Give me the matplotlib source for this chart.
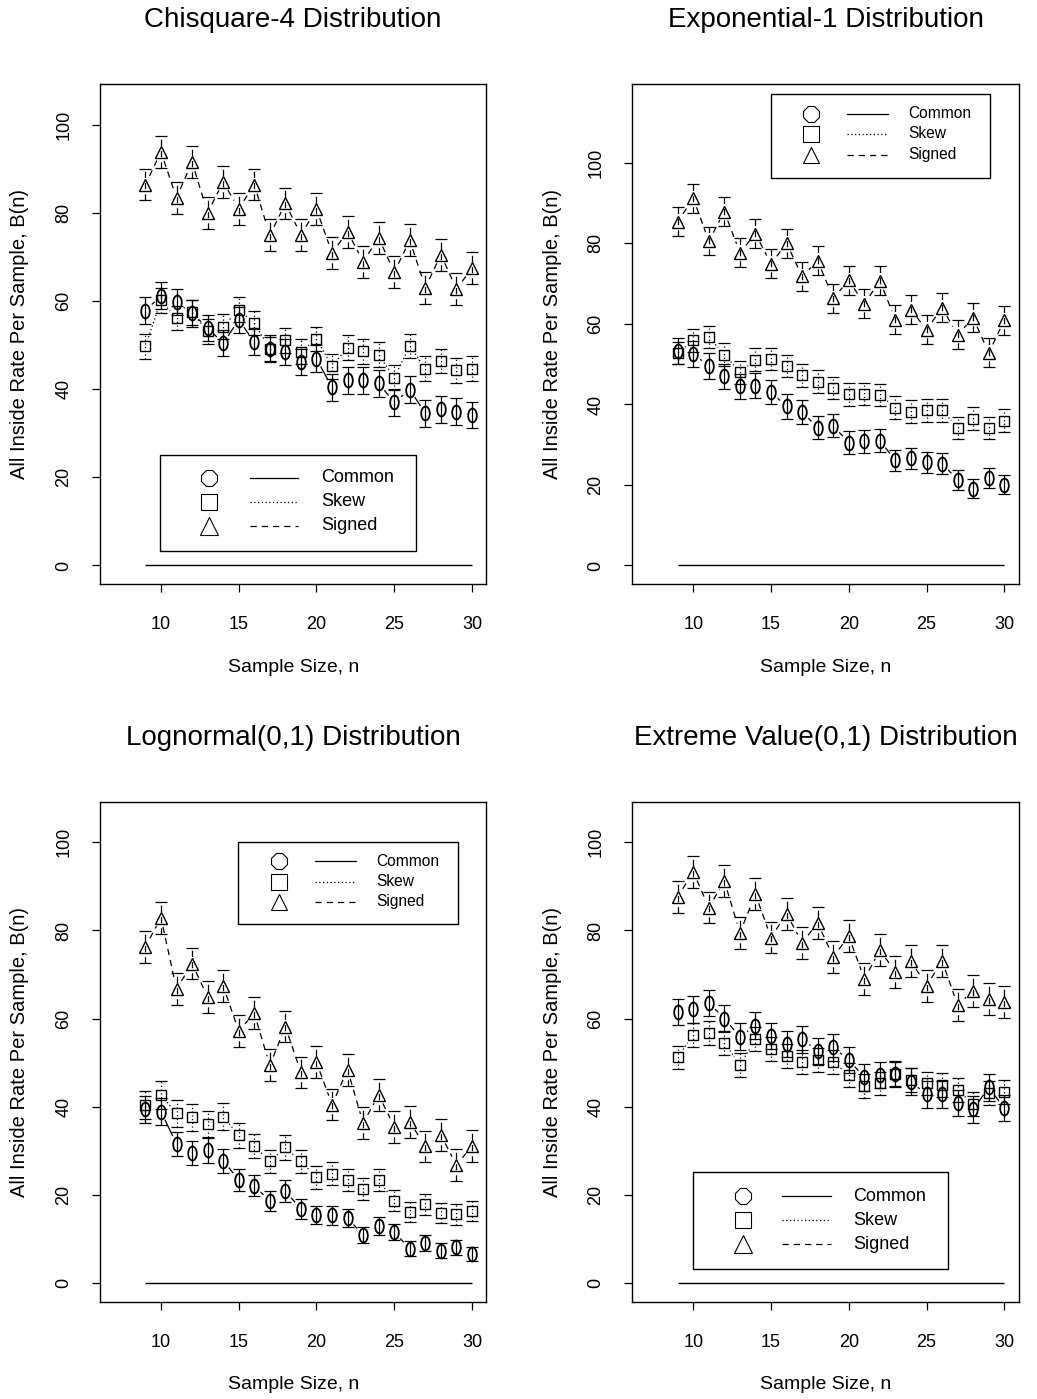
import numpy as np
import matplotlib
matplotlib.use("Agg")
import matplotlib.pyplot as plt
from matplotlib.path import Path

plt.rcParams["font.family"] = ["Liberation Sans", "DejaVu Sans"]

# sample sizes on the x axis
n = list(range(9, 31))

titles = ["Chisquare-4 Distribution", "Exponential-1 Distribution",
          "Lognormal(0,1) Distribution", "Extreme Value(0,1) Distribution"]
series_names = ["Common", "Skew", "Signed"]
x_ticks = [10, 15, 20, 25, 30]
y_ticks = [0, 20, 40, 60, 80, 100]
y_tops = [105, 115, 105, 105]

# Chisquare-4
chisq_common = [57.8, 61.2, 59.7, 57.2, 53.9, 50.4, 55.7, 50.7, 49.2, 48.4, 46.1,
                46.9, 40.4, 42.0, 42.0, 41.3, 37.0, 39.9, 34.5, 35.4, 34.9, 34.1]
chisq_skew = [49.7, 60.1, 56.1, 57.4, 53.1, 54.2, 58.0, 55.0, 49.1, 51.1, 48.5,
              51.4, 45.2, 49.4, 48.6, 47.8, 42.6, 49.8, 44.6, 46.4, 44.3, 44.6]
chisq_signed = [86.4, 93.8, 83.4, 91.5, 80.0, 87.0, 80.9, 86.4, 74.9, 82.1, 75.0,
                80.8, 70.9, 75.7, 68.9, 74.3, 66.5, 73.8, 63.0, 70.5, 62.7, 67.4]
chisq_err = [3.0, 2.8, 3.6]

# Exponential-1
expo_common = [53.2, 52.6, 49.5, 47.0, 44.5, 44.7, 43.0, 39.5, 38.2, 34.2, 34.7,
               30.5, 30.8, 31.0, 26.1, 26.6, 25.6, 25.3, 21.3, 19.1, 21.8, 20.1]
expo_skew = [52.8, 55.9, 56.7, 52.4, 48.0, 51.1, 51.3, 49.6, 47.2, 45.7, 44.1,
             42.5, 42.6, 42.4, 39.2, 38.2, 38.5, 38.5, 34.2, 36.5, 34.2, 36.0]
expo_signed = [85.4, 91.2, 80.6, 87.9, 77.7, 82.4, 74.9, 80.1, 71.8, 75.7, 66.4,
               70.8, 65.0, 70.7, 61.0, 63.5, 58.6, 64.0, 57.3, 61.5, 52.8, 60.9]
expo_err = [[3.2, 3.2, 3.2, 3.1, 3.1, 3.1, 3.0, 3.0, 3.0, 2.9, 2.9,
             2.8, 2.8, 2.8, 2.7, 2.7, 2.6, 2.6, 2.5, 2.4, 2.5, 2.4],
            2.8, 3.6]

# Lognormal(0,1)
logn_common = [39.4, 38.9, 31.6, 29.5, 30.1, 27.8, 23.4, 22.1, 18.6, 20.9, 16.8,
               15.5, 15.4, 14.8, 10.9, 13.0, 11.6, 7.8, 9.1, 7.3, 8.2, 6.6]
logn_skew = [40.4, 42.7, 38.5, 37.6, 36.1, 37.8, 33.5, 31.1, 27.6, 30.8, 27.6,
             24.0, 24.8, 23.4, 21.3, 23.3, 18.7, 16.1, 17.9, 15.9, 15.6, 16.4]
logn_signed = [76.3, 82.9, 66.7, 72.5, 64.9, 67.4, 57.2, 61.2, 49.4, 58.2, 47.8,
               50.1, 40.5, 48.4, 36.3, 42.7, 35.5, 36.6, 31.0, 33.6, 26.8, 31.1]
logn_err = [[3.0, 3.0, 2.8, 2.7, 2.8, 2.7, 2.5, 2.4, 2.3, 2.4, 2.2,
             2.1, 2.1, 2.1, 1.9, 2.0, 1.9, 1.7, 1.8, 1.7, 1.7, 1.6],
            [3.1, 3.1, 3.0, 3.0, 2.9, 3.0, 2.9, 2.8, 2.7, 2.8, 2.7,
             2.6, 2.6, 2.5, 2.5, 2.5, 2.4, 2.3, 2.4, 2.3, 2.3, 2.3],
            3.6]

# Extreme Value(0,1)
evd_common = [61.5, 62.1, 63.6, 60.0, 55.9, 58.4, 56.0, 54.2, 55.3, 52.7, 53.5,
              50.6, 46.7, 47.2, 47.4, 45.7, 42.8, 42.8, 40.9, 39.4, 44.4, 39.7]
evd_skew = [51.2, 56.3, 56.7, 54.5, 49.5, 55.3, 53.2, 51.5, 50.2, 50.6, 50.2,
            47.2, 44.7, 45.3, 47.4, 46.1, 45.3, 44.9, 43.8, 40.6, 43.1, 43.4]
evd_signed = [87.6, 93.3, 85.2, 91.2, 79.5, 88.2, 78.4, 83.8, 77.2, 81.7, 74.0,
              78.7, 69.0, 75.5, 70.6, 73.1, 67.4, 73.1, 63.1, 66.3, 64.4, 63.8]
evd_err = [3.0, 2.7, 3.6]

panel_series = [
    (chisq_common, chisq_skew, chisq_signed, chisq_err),
    (expo_common, expo_skew, expo_signed, expo_err),
    (logn_common, logn_skew, logn_signed, logn_err),
    (evd_common, evd_skew, evd_signed, evd_err),
]

# legend layout per panel, in axes fractions: box, rows, symbol x, line x, text x, text size
legend_layout = [
    dict(box=(0.155, 0.066, 0.819, 0.258), rows=(0.212, 0.164, 0.116), sx=0.282,
         lx=(0.389, 0.513), tx=0.573, fs=13, ms=(13, 12, 13)),
    dict(box=(0.358, 0.813, 0.926, 0.980), rows=(0.941, 0.901, 0.859), sx=0.463,
         lx=(0.557, 0.662), tx=0.714, fs=11.2, ms=(12, 11, 12)),
    dict(box=(0.358, 0.755, 0.928, 0.919), rows=(0.881, 0.840, 0.800), sx=0.464,
         lx=(0.557, 0.663), tx=0.715, fs=11.2, ms=(12, 11, 12)),
    dict(box=(0.157, 0.065, 0.817, 0.259), rows=(0.211, 0.163, 0.115), sx=0.287,
         lx=(0.388, 0.515), tx=0.572, fs=13, ms=(13, 12, 13)),
]

dotted = (0, (1, 2))
dashed = (0, (5, 4))
styles = ["-", dotted, dashed]

circ = Path.unit_circle()
oval = Path(circ.vertices * [0.62, 1.0], circ.codes)
point_markers = [oval, "s", "^"]
point_sizes = [10, 7.2, 8.6]
legend_markers = ["8", "s", "^"]


def gapped_line(ax, xs, ys, gap, ls):
    # like R's type="b": segments between points, cut short near each point
    pts = ax.transData.transform(np.column_stack([xs, ys]))
    inv = ax.transData.inverted()
    for a, b in zip(pts[:-1], pts[1:]):
        d = b - a
        length = np.hypot(d[0], d[1])
        if length <= 2 * gap:
            continue
        u = d / length
        seg = inv.transform(np.array([a + u * gap, b - u * gap]))
        ax.plot(seg[:, 0], seg[:, 1], color="black", lw=0.9, ls=ls)


fig = plt.figure(figsize=(10.37, 13.99), dpi=100)
W, H = 1037, 1399
axes_px = [(100, 84), (632.3, 84), (100, 801.7), (632.3, 801.7)]
ax_w, ax_h = 386.3, 500

for k in range(4):
    x0, y0 = axes_px[k]
    ax = fig.add_axes([x0 / W, 1 - (y0 + ax_h) / H, ax_w / W, ax_h / H])
    ax.set_xlim(7 - 0.04 * 23, 30 + 0.04 * 23)
    ax.set_ylim(-0.04 * y_tops[k], y_tops[k] * 1.04)
    common, skew, signed, errs = panel_series[k]

    ax.hlines(0, n[0], n[-1], color="black", lw=1.0)

    for j, vals in enumerate([common, skew, signed]):
        gapped_line(ax, n, vals, 9.5, styles[j])
        eb = ax.errorbar(n, vals, yerr=errs[j], fmt="none", ecolor="black",
                         elinewidth=0.9, capsize=4.3, capthick=0.9)
        eb[2][0].set_linestyle(styles[j])
        ax.plot(n, vals, ls="none", marker=point_markers[j], ms=point_sizes[j],
                mfc="none", mec="black", mew=1.3 if j == 0 else 1.0)

    # legend box drawn in the R style
    lay = legend_layout[k]
    bx0, by0, bx1, by1 = lay["box"]
    ax.add_patch(plt.Rectangle((bx0, by0), bx1 - bx0, by1 - by0, transform=ax.transAxes,
                               fill=False, ec="black", lw=1.0))
    for j in range(3):
        yy = lay["rows"][j]
        ax.plot([lay["sx"]], [yy], transform=ax.transAxes, marker=legend_markers[j],
                ms=lay["ms"][j], mfc="none", mec="black", mew=0.8, ls="none")
        ax.plot(lay["lx"], [yy, yy], transform=ax.transAxes, color="black", lw=0.9,
                ls=styles[j])
        ax.text(lay["tx"], yy, series_names[j], transform=ax.transAxes,
                fontsize=lay["fs"], va="center", ha="left")

    ax.set_xticks(x_ticks)
    ax.set_yticks(y_ticks)
    ax.tick_params(direction="out", length=6, width=0.9, labelsize=13)
    ax.tick_params(axis="x", pad=17)
    ax.tick_params(axis="y", pad=14)
    for lab in ax.get_yticklabels():
        lab.set_rotation(90)
        lab.set_va("center")
    for sp in ax.spines.values():
        sp.set_linewidth(1.0)

    ax.text(0.5, 1 + 64 / ax_h, titles[k], transform=ax.transAxes, ha="center",
            va="center", fontsize=20)
    ax.text(0.5, -83 / ax_h, "Sample Size, n", transform=ax.transAxes, ha="center",
            va="center", fontsize=14)
    ax.text(-80 / ax_w, 0.5, "All Inside Rate Per Sample, B(n)", transform=ax.transAxes,
            ha="center", va="center", rotation=90, fontsize=14.5)

fig.savefig("out.png", dpi=100)
